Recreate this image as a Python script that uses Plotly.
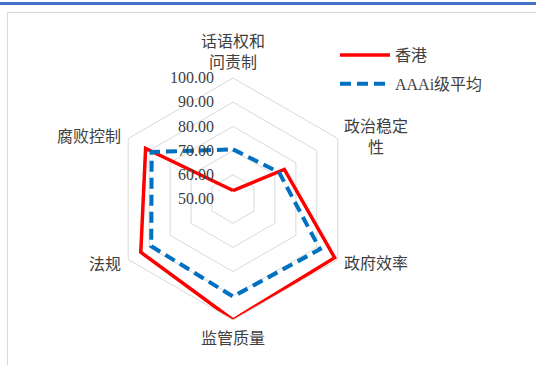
import math
import plotly.graph_objects as go

categories = ["话语权和问责制", "政治稳定性", "政府效率", "监管质量", "法规", "腐败控制"]
category_labels = ["话语权和<br>问责制", "政治稳定<br>性", "政府效率", "监管质量", "法规", "腐败控制"]
hk_values = [53.5, 74.5, 98.5, 100.0, 94.0, 91.7]
aaa_values = [70.5, 72.0, 91.5, 90.3, 89.0, 88.8]
series_names = ["香港", "AAAi级平均"]
radial_ticks = [50, 60, 70, 80, 90, 100]
radial_ticktext = [f"{v:.2f}" + "\u00a0" * 4 for v in radial_ticks]

W, H = 536, 365
cx, cy, R = 233, 199, 121

def close(v):
    return v + v[:1]

fig = go.Figure()
fig.add_trace(go.Scatterpolar(
    r=close(hk_values), theta=close(categories), mode="lines",
    name=series_names[0], line=dict(color="#FF0000", width=3.5),
    legendgroup="a"))
fig.add_trace(go.Scatterpolar(
    r=close(aaa_values), theta=close(categories), mode="lines",
    name=series_names[1], line=dict(color="#0070C0", width=4, dash="11px,6px"),
    legendgroup="b"))

font_family = "Liberation Serif, Noto Sans CJK SC"
text_color = "#404040"

# category labels placed around the outer hexagon
annotations = []
n = len(categories)
for i, lab in enumerate(category_labels):
    ang = math.radians(90 - 360 * i / n)
    vx = cx + R * math.cos(ang)
    vy = cy - R * math.sin(ang)
    c = math.cos(ang)
    s = math.sin(ang)
    if abs(c) < 0.1:
        xa = "center"
        px = vx
        if s > 0:
            py = vy - 26
        else:
            py = vy + 18
    elif c > 0:
        xa = "left"
        px = vx + 4
        py = vy + (-1 if s > 0 else 4)
    else:
        xa = "right"
        px = vx - 5
        py = vy + (-2 if s > 0 else 5)
    annotations.append(dict(
        x=px / W, y=1 - py / H, xref="paper", yref="paper",
        text=lab, showarrow=False, xanchor=xa, yanchor="middle",
        align="center", font=dict(size=16, color=text_color)))

fig.update_layout(
    width=W, height=H, autosize=False,
    margin=dict(l=0, r=0, t=0, b=0),
    paper_bgcolor="white", plot_bgcolor="white",
    font=dict(family=font_family, size=16, color=text_color),
    polar=dict(
        domain=dict(x=[(cx - R) / W, (cx + R) / W],
                    y=[(H - cy - R) / H, (H - cy + R) / H]),
        bgcolor="white",
        gridshape="linear",
        radialaxis=dict(range=[50, 100], tickvals=radial_ticks,
                        ticktext=radial_ticktext, angle=90, tickangle=90,
                        side="counterclockwise", showline=False, ticks="",
                        gridcolor="#D9D9D9", gridwidth=1,
                        tickfont=dict(size=16, color=text_color)),
        angularaxis=dict(rotation=90, direction="clockwise",
                         showgrid=False, showline=True, linecolor="#D9D9D9",
                         linewidth=1, ticks="", showticklabels=False),
    ),
    legend=dict(x=335 / W, y=1 - 38 / H, xanchor="left", yanchor="top",
                itemwidth=50, tracegroupgap=5,
                font=dict(size=16, color=text_color),
                bgcolor="rgba(0,0,0,0)"),
    annotations=annotations,
    shapes=[
        dict(type="rect", xref="paper", yref="paper",
             x0=0, x1=1, y0=1 - 5 / H, y1=1 - 2 / H,
             fillcolor="#4472C4", line=dict(width=0)),
        dict(type="rect", xref="paper", yref="paper",
             x0=7.5 / W, x1=1.05, y0=-0.05, y1=1 - 12.5 / H,
             fillcolor="rgba(0,0,0,0)", line=dict(color="#D9D9D9", width=1)),
    ],
)

fig.write_html("out.html")
